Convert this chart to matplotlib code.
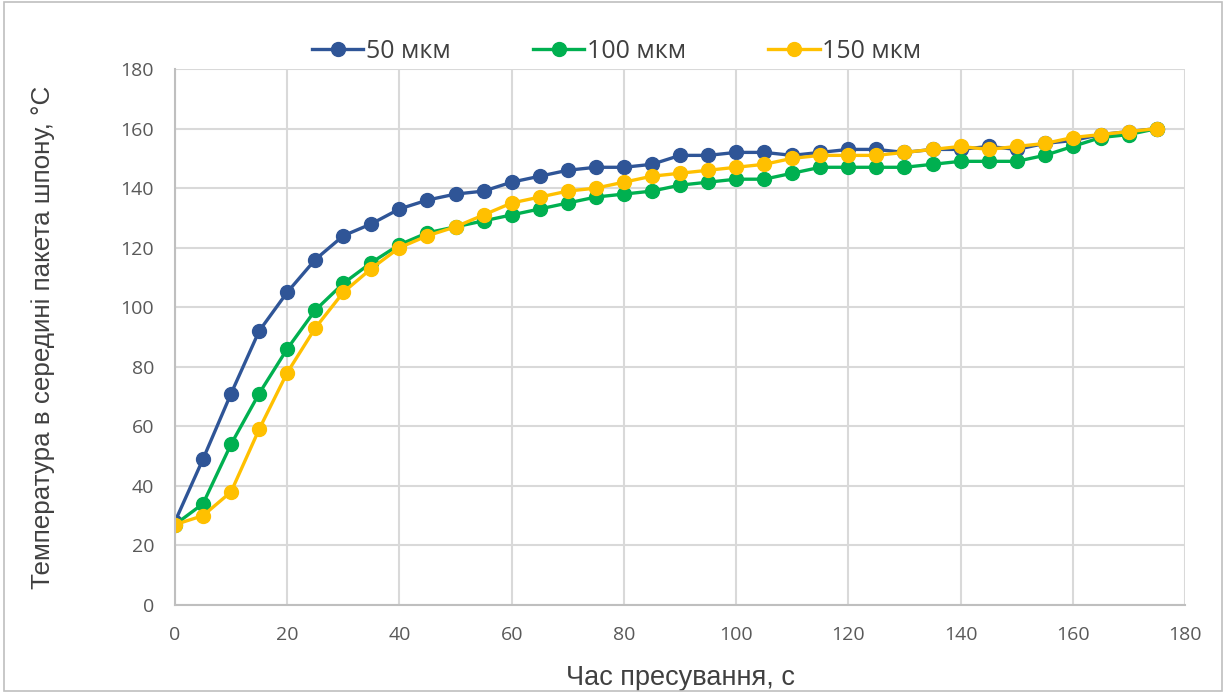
import matplotlib
matplotlib.use('Agg')
import matplotlib.pyplot as plt

# data
t = list(range(0, 180, 5))  # pressing time, s
temp_50 = [28, 49, 71, 92, 105, 116, 124, 128, 133, 136, 138, 139, 142, 144, 146, 147, 147, 148,
           151, 151, 152, 152, 151, 152, 153, 153, 152, 153, 153, 154, 153, 155, 156, 158, 159, 160]
temp_100 = [27, 34, 54, 71, 86, 99, 108, 115, 121, 125, 127, 129, 131, 133, 135, 137, 138, 139,
            141, 142, 143, 143, 145, 147, 147, 147, 147, 148, 149, 149, 149, 151, 154, 157, 158, 160]
temp_150 = [27, 30, 38, 59, 78, 93, 105, 113, 120, 124, 127, 131, 135, 137, 139, 140, 142, 144,
            145, 146, 147, 148, 150, 151, 151, 151, 152, 153, 154, 153, 154, 155, 157, 158, 159, 160]
labels = ['50 мкм', '100 мкм', '150 мкм']
colors = ['#2F5597', '#00B050', '#FFC000']

plt.rcParams['font.family'] = ['Open Sans', 'DejaVu Sans']

fig = plt.figure(figsize=(12.26, 6.93), dpi=100)
ax = fig.add_axes([0.1427, 0.127, 0.8239, 0.7734])

for y, lab, c in zip([temp_50, temp_100, temp_150], labels, colors):
    ax.plot(t, y, marker='o', markersize=10, linewidth=2.4, color=c, label=lab)

ax.set_xlim(0, 180)
ax.set_ylim(0, 180)
ax.set_xticks(range(0, 181, 20))
ax.set_yticks(range(0, 181, 20))
ax.grid(True, color='#D9D9D9', linewidth=1.5)
ax.set_axisbelow(True)
for s in ['top', 'right']:
    ax.spines[s].set_visible(False)
for s in ['left', 'bottom']:
    ax.spines[s].set_color('#BFBFBF')
    ax.spines[s].set_linewidth(1.5)
ax.tick_params(length=0, labelsize=14, colors='#595959', pad=15)
ax.set_xlabel('Час пресування, с', fontsize=19.5, color='#404040', labelpad=15,
              family=['Liberation Sans', 'DejaVu Sans'])
ax.set_ylabel('Температура в середині пакета шпону, °С', fontsize=18.7, color='#404040',
              labelpad=47, family=['Liberation Sans', 'DejaVu Sans'])

fig.legend(*ax.get_legend_handles_labels(), loc='center', bbox_to_anchor=(0.503, 0.926), ncol=3,
           frameon=False, fontsize=18, handlelength=2.05, columnspacing=3.3, handletextpad=0.1,
           labelcolor='#404040')

fig.patches.append(plt.Rectangle((0.003, 0.003), 0.994, 0.994, transform=fig.transFigure,
                                 fill=False, edgecolor='#BFBFBF', linewidth=1.2))

fig.savefig('out.png', dpi=100)
